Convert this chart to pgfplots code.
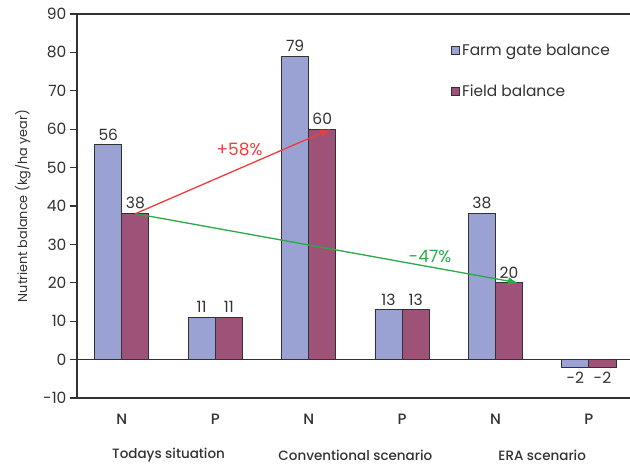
\documentclass[border=0pt]{standalone}
\usepackage{pgfplots}
\pgfplotsset{compat=1.18}
\usetikzlibrary{arrows.meta}
\usepackage{fontspec}
\setmainfont{Poppins}
\newfontfamily\medfont{Poppins Medium}
\definecolor{farm}{RGB}{154,162,212}
\definecolor{field}{RGB}{158,82,120}
\definecolor{arrred}{RGB}{240,60,60}
\definecolor{arrgreen}{RGB}{40,170,70}
\definecolor{axgray}{RGB}{50,50,50}
\newcommand{\tickfont}{\fontsize{15.5}{17}\selectfont}
\newcommand{\groupfont}{\fontsize{13.5}{16}\selectfont\medfont}
\begin{document}
\begin{tikzpicture}
\useasboundingbox (-77pt,-67pt) rectangle (553pt,398pt);
\begin{axis}[
  scale only axis, width=553pt, height=384pt,
  at={(0,0)}, anchor=south west, clip=false,
  ybar=0pt, bar width=0.29,
  xmin=-0.48, xmax=5.44, ymin=-10, ymax=90,
  ytick={-10,0,...,90},
  xtick={0,...,5}, xticklabels={N,P,N,P,N,P},
  axis x line*=box, axis y line*=left,
  axis line style={draw=axgray, line width=1.2pt},
  tick align=outside, major tick length=7pt,
  y tick style={draw=axgray, line width=1.2pt},
  x tick style={draw=none},
  /pgf/number format/assume math mode=true,
  ticklabel style={font=\tickfont, text=axgray},
  xticklabel style={yshift=-6pt, font=\fontsize{15}{17}\selectfont\medfont},
  extra y ticks={0}, extra y tick labels={},
  extra y tick style={grid=major, major grid style={draw=axgray, line width=1.2pt}},
  every axis y label/.style={at={(axis description cs:-0.098,0.5)}, rotate=90, anchor=center},
  ylabel={Nutrient balance (kg/ha year)},
  ylabel style={font=\fontsize{12.8}{15}\selectfont, text=axgray},
  nodes near coords,
  every node near coord/.append style={font=\tickfont, text=axgray, inner sep=4pt},
  legend style={at={(rel axis cs:0.671,0.932)}, anchor=north west, draw=none, fill=none,
    font=\fontsize{15.4}{17}\selectfont, text=axgray, row sep=24pt},
  legend cell align=left,
  legend image code/.code={\draw[#1,draw=axgray,line width=0.8pt] (0pt,-4pt) rectangle (8pt,4pt);},
]
\addplot[fill=farm, draw=axgray, line width=0.9pt] coordinates {(0,56) (1,11) (2,79) (3,13) (4,38) (5,-2)};
\addlegendentry{Farm gate balance}
\addplot[fill=field, draw=axgray, line width=0.9pt] coordinates {(0,38) (1,11) (2,60) (3,13) (4,20) (5,-2)};
\addlegendentry{Field balance}

\draw[-{Latex[length=10pt,width=8pt]}, arrred, line width=1.3pt] (axis cs:0.145,38) -- (axis cs:2.23,60);
\draw[-{Latex[length=10pt,width=8pt]}, arrgreen, line width=1.3pt] (axis cs:0.145,38) -- (axis cs:4.24,20);
\node[text=arrred, font=\fontsize{17}{19}\selectfont] at (axis cs:1.26,54.7) {+58\%};
\node[text=arrgreen, font=\fontsize{17}{19}\selectfont] at (axis cs:3.3,26.8) {-47\%};

\node[font=\groupfont, text=axgray] at (axis cs:0.5,-10) [yshift=-57pt] {Todays situation};
\node[font=\groupfont, text=axgray] at (axis cs:2.5,-10) [yshift=-57pt] {Conventional scenario};
\node[font=\groupfont, text=axgray] at (axis cs:4.5,-10) [yshift=-57pt] {ERA scenario};
\end{axis}
\end{tikzpicture}
\end{document}
